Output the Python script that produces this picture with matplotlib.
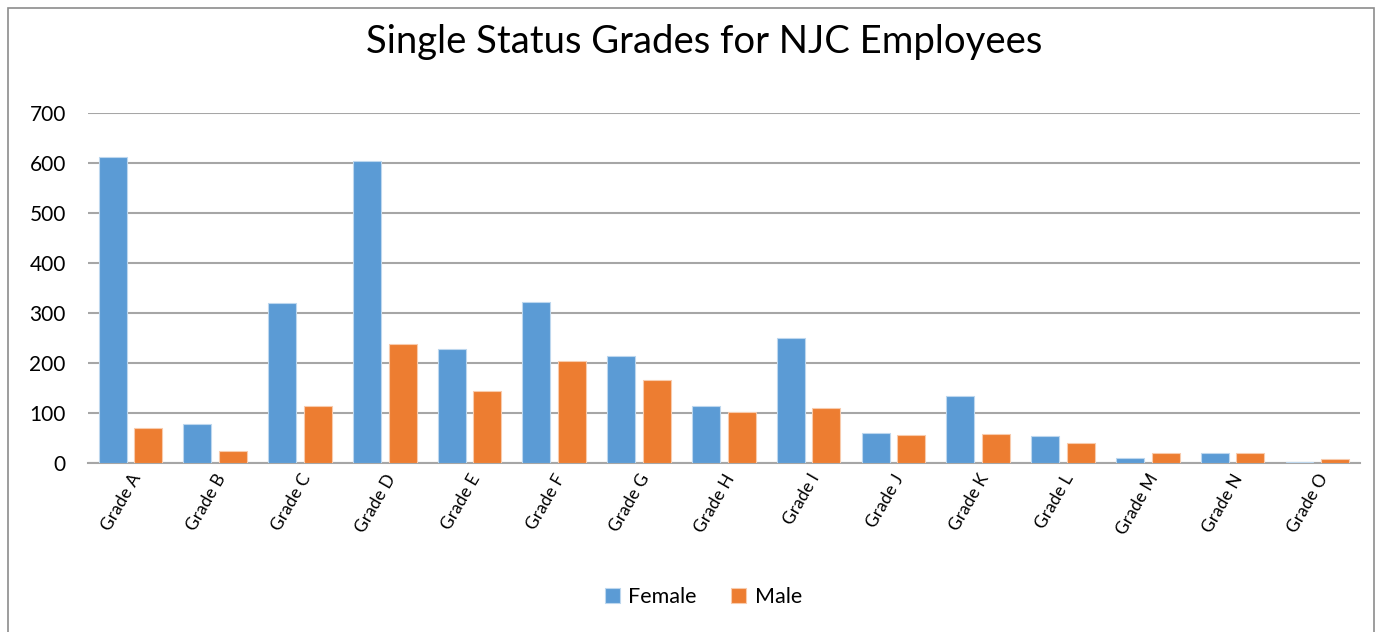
import numpy as np
import matplotlib.pyplot as plt
from matplotlib.patches import Rectangle

# data
grades = ['Grade A', 'Grade B', 'Grade C', 'Grade D', 'Grade E', 'Grade F', 'Grade G', 'Grade H',
          'Grade I', 'Grade J', 'Grade K', 'Grade L', 'Grade M', 'Grade N', 'Grade O']
female = [613, 79, 320, 604, 229, 322, 215, 115, 251, 61, 134, 55, 11, 20, 3]
male = [71, 24, 115, 239, 144, 204, 166, 103, 111, 57, 59, 41, 20, 20, 8]

BLUE = '#5B9BD5'
ORANGE = '#ED7D31'
GRID = '#A6A6A6'

plt.rcParams['font.family'] = ['Lato', 'DejaVu Sans']

fig = plt.figure(figsize=(13.79, 6.32), dpi=100)
ax = fig.add_axes([0.0638, 0.2674, 0.9222, 0.5538])

x = np.arange(len(grades))
w = 0.33
off = 0.21
ax.bar(x - off, female, w, color=BLUE, edgecolor='#BDD7EE', linewidth=0.8, label='Female', zorder=3)
ax.bar(x + off, male, w, color=ORANGE, edgecolor='#F8CBAD', linewidth=0.8, label='Male', zorder=3)

ax.set_xlim(-0.5, len(grades) - 0.5)
ax.set_ylim(0, 700)
ax.set_yticks(range(0, 701, 100))
ax.yaxis.grid(True, color=GRID, linewidth=1.5, zorder=0)
ax.set_axisbelow(True)
for s in ['top', 'right', 'left']:
    ax.spines[s].set_visible(False)
ax.spines['bottom'].set_color(GRID)
ax.spines['bottom'].set_linewidth(1.5)
ax.tick_params(axis='y', length=0, labelsize=15, pad=16)
ax.tick_params(axis='x', length=0, labelsize=12.5, pad=6)
ax.set_xticks(x)
ax.set_xticklabels(grades, rotation=60, ha='right', rotation_mode='anchor')

fig.text(0.511, 0.934, 'Single Status Grades for NJC Employees', ha='center', va='center', fontsize=27.5)

fig.legend(loc='center', bbox_to_anchor=(0.51, 0.055), ncol=2, frameon=False,
           fontsize=15.5, handlelength=0.7, handleheight=0.7, handletextpad=0.4, columnspacing=1.6)

# outer chart border
fig.patches.append(Rectangle((8 / 1379, -0.01), 1366 / 1379, 1 - 8 / 632 + 0.01, transform=fig.transFigure,
                             fill=False, edgecolor='#8C8C8C', linewidth=1.2))

fig.savefig('out.png', dpi=100)
